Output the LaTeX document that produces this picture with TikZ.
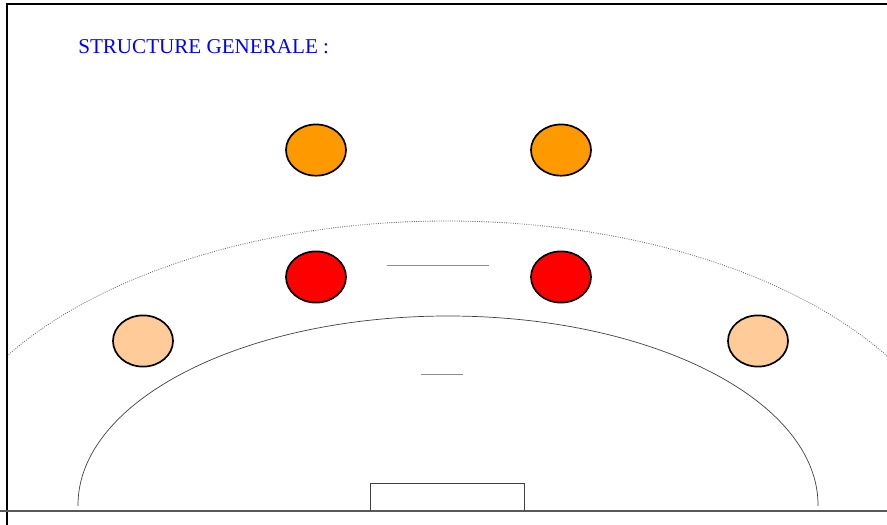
\documentclass[tikz,border=0pt]{standalone}
\usepackage{fontspec}
\setmainfont{Liberation Serif}
\usetikzlibrary{shapes.geometric, positioning}
\definecolor{orangejoueur}{HTML}{FF9900}
\definecolor{rougejoueur}{HTML}{FF0000}
\definecolor{peaujoueur}{HTML}{FFCC99}

\begin{document}
\begin{tikzpicture}[
        x=0.025cm, y=-0.025cm,
        joueur/.style={ellipse, draw=black, line width=1.2pt, minimum width=1.5cm, minimum height=1.28cm, inner sep=0pt},
        ligne/.style={black!45, line width=0.7pt},
        zone/.style={black!75, line width=0.5pt}
    ]
        \useasboundingbox (0,0) rectangle (887,525);

        % Cadre
        \draw[line width=1.8pt] (7,525) -- (7,4) -- (887,4);
        \draw[black!65, line width=0.8pt] (0,511) -- (887,511);

        % Titre
        \node[anchor=base west, inner sep=0pt, text=blue, font=\fontsize{15}{17}\selectfont] (titre) at (78,54) {STRUCTURE GENERALE :};

        % Ligne des 9 m (pointillés)
        \begin{scope}
            \clip (8,0) rectangle (887,511);
            \draw[black!60, densely dotted, line width=0.6pt] (447,510) ellipse [x radius=520, y radius=289];
        \end{scope}

        % Zone des 6 m
        \begin{scope}
            \clip (0,0) rectangle (887,505);
            \draw[zone] (448,505) ellipse [x radius=370, y radius=189];
        \end{scope}

        % Traits
        \draw[ligne] (387,265) -- (489,265);
        \draw[ligne] (421,374) -- (463,374);

        % But
        \draw[black!75, line width=0.6pt] (370,511) -- (370,483) -- (524,483) -- (524,511);

        % Joueurs
        \node[joueur, fill=rougejoueur] (rougeG) at (316,277) {};
        \node[joueur, fill=rougejoueur] (rougeD) at (561,277) {};
        \node[joueur, fill=orangejoueur, above=1.85cm of rougeG] (orangeG) {};
        \node[joueur, fill=orangejoueur, above=1.85cm of rougeD] (orangeD) {};
        \node[joueur, fill=peaujoueur] (ailierG) at (143,341) {};
        \node[joueur, fill=peaujoueur] (ailierD) at (758,341) {};

    \end{tikzpicture}
\end{document}
